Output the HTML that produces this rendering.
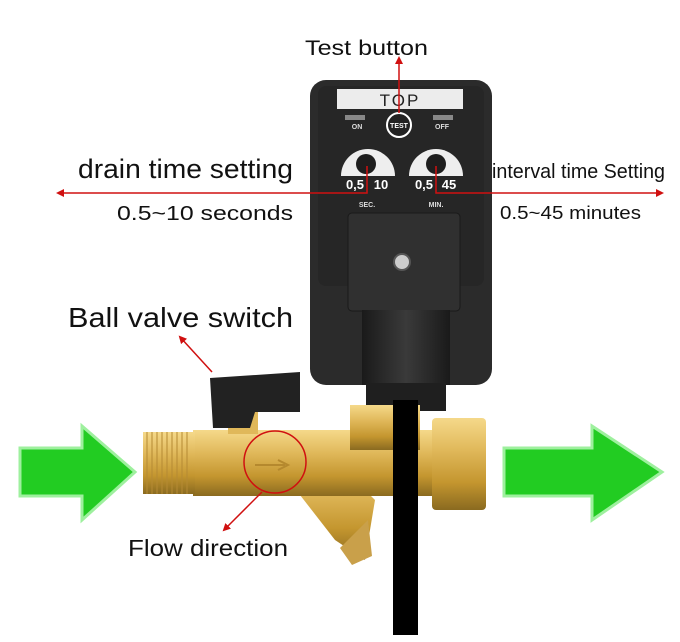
<!DOCTYPE html>
<html><head><style>
html,body{margin:0;padding:0;background:#fff;}
svg{display:block;font-family:"Liberation Sans",sans-serif;}
</style></head><body>
<svg width="680" height="642" viewBox="0 0 680 642" xmlns="http://www.w3.org/2000/svg">
<defs>
<linearGradient id="brass" x1="0" y1="0" x2="0" y2="1">
<stop offset="0" stop-color="#f5d98a"/><stop offset="0.35" stop-color="#e0b85a"/><stop offset="0.7" stop-color="#c4962f"/><stop offset="1" stop-color="#8a6a20"/>
</linearGradient>
<linearGradient id="blk" x1="0" y1="0" x2="1" y2="0">
<stop offset="0" stop-color="#1a1a1a"/><stop offset="0.5" stop-color="#3a3a3a"/><stop offset="1" stop-color="#1a1a1a"/>
</linearGradient>
<marker id="ar" markerWidth="8" markerHeight="8" refX="6" refY="4" orient="auto" markerUnits="userSpaceOnUse"><path d="M0,0 L8,4 L0,8 z" fill="#d01010"/></marker>
</defs>
<rect width="680" height="642" fill="#fff"/>

<!-- timer box -->
<rect x="310" y="80" width="182" height="305" rx="16" fill="#2b2b2b"/>
<rect x="318" y="86" width="166" height="200" rx="8" fill="#262626"/>
<rect x="337" y="89" width="126" height="20" fill="#ececec"/>
<text x="400" y="106" font-size="17" text-anchor="middle" fill="#222" letter-spacing="2">TOP</text>
<rect x="345" y="115" width="20" height="5" fill="#888"/>
<rect x="433" y="115" width="20" height="5" fill="#888"/>
<text x="357" y="129" font-size="7" fill="#ddd" text-anchor="middle" font-weight="bold">ON</text>
<text x="442" y="129" font-size="7" fill="#ddd" text-anchor="middle" font-weight="bold">OFF</text>
<circle cx="399" cy="125" r="12" fill="#222" stroke="#fff" stroke-width="2"/>
<text x="399" y="128" font-size="7" fill="#fff" text-anchor="middle" font-weight="bold">TEST</text>
<path d="M341,176 A27,27 0 0 1 395,176 Z" fill="#eee"/>
<path d="M409,176 A27,27 0 0 1 463,176 Z" fill="#eee"/>
<circle cx="366" cy="164" r="10" fill="#1e1e1e"/>
<circle cx="436" cy="164" r="10" fill="#1e1e1e"/>
<text x="355" y="189" font-size="13" fill="#fff" font-weight="bold" text-anchor="middle">0,5</text>
<text x="381" y="189" font-size="13" fill="#fff" font-weight="bold" text-anchor="middle">10</text>
<text x="424" y="189" font-size="13" fill="#fff" font-weight="bold" text-anchor="middle">0,5</text>
<text x="449" y="189" font-size="13" fill="#fff" font-weight="bold" text-anchor="middle">45</text>
<text x="367" y="207" font-size="7" fill="#ddd" font-weight="bold" text-anchor="middle">SEC.</text>
<text x="436" y="207" font-size="7" fill="#ddd" font-weight="bold" text-anchor="middle">MIN.</text>
<rect x="348" y="213" width="112" height="98" rx="4" fill="#303030" stroke="#1a1a1a"/>
<circle cx="402" cy="262" r="8" fill="#ccc" stroke="#555" stroke-width="2"/>
<rect x="362" y="310" width="88" height="75" fill="url(#blk)"/>
<rect x="366" y="383" width="80" height="28" fill="#1f1f1f"/>

<!-- valve body -->
<path d="M330,455 L375,500 L365,560 L335,540 L300,495 Z" fill="url(#brass)"/>
<path d="M340,548 L368,520 L372,556 L352,565 Z" fill="#c9a04a"/>
<rect x="193" y="430" width="250" height="66" fill="url(#brass)"/>
<rect x="143" y="432" width="52" height="62" fill="url(#brass)"/>
<g stroke="#b58a33" stroke-width="1">
<line x1="147" y1="432" x2="147" y2="494"/><line x1="152" y1="432" x2="152" y2="494"/><line x1="157" y1="432" x2="157" y2="494"/><line x1="162" y1="432" x2="162" y2="494"/><line x1="167" y1="432" x2="167" y2="494"/><line x1="172" y1="432" x2="172" y2="494"/><line x1="177" y1="432" x2="177" y2="494"/><line x1="182" y1="432" x2="182" y2="494"/><line x1="187" y1="432" x2="187" y2="494"/>
</g>
<rect x="350" y="405" width="70" height="45" fill="url(#brass)"/>
<rect x="432" y="418" width="54" height="92" rx="4" fill="url(#brass)"/>
<rect x="228" y="412" width="30" height="22" fill="#e0b85a"/>
<!-- ball handle -->
<path d="M210,378 L300,372 L300,412 L255,412 L250,428 L213,428 Z" fill="#222"/>
<rect x="393" y="400" width="25" height="235" fill="#000"/>
<path d="M255,465 L285,465 M278,460 L288,465 L278,470" stroke="#b5892e" stroke-width="2" fill="none"/>
<circle cx="275" cy="462" r="31" fill="none" stroke="#d01010" stroke-width="1.5"/>

<!-- green arrows -->
<path d="M20,448 L82,448 L82,426 L135,472 L82,520 L82,496 L20,496 Z" fill="#22cc22" stroke="#9ef09e" stroke-width="3"/>
<path d="M504,448 L592,448 L592,426 L662,472 L592,520 L592,496 L504,496 Z" fill="#22cc22" stroke="#9ef09e" stroke-width="3"/>

<!-- red leader lines -->
<g stroke="#d01010" stroke-width="1.5" fill="none">
<line x1="399" y1="113" x2="399" y2="58" marker-end="url(#ar)"/>
<polyline points="367,166 367,193 58,193" marker-end="url(#ar)"/>
<polyline points="436,166 436,193 662,193" marker-end="url(#ar)"/>
<line x1="212" y1="372" x2="180" y2="337" marker-end="url(#ar)"/>
<line x1="262" y1="492" x2="224" y2="530" marker-end="url(#ar)"/>
</g>

<!-- labels -->
<text x="305" y="55" font-size="21" fill="#111" textLength="123" lengthAdjust="spacingAndGlyphs">Test button</text>
<text x="78" y="178" font-size="27" fill="#111" textLength="215" lengthAdjust="spacingAndGlyphs">drain time setting</text>
<text x="117" y="220" font-size="20" fill="#111" textLength="176" lengthAdjust="spacingAndGlyphs">0.5~10 seconds</text>
<text x="492" y="178" font-size="20" fill="#111" textLength="173" lengthAdjust="spacingAndGlyphs">interval time Setting</text>
<text x="500" y="219" font-size="18" fill="#111" textLength="141" lengthAdjust="spacingAndGlyphs">0.5~45 minutes</text>
<text x="68" y="327" font-size="28" fill="#111" textLength="225" lengthAdjust="spacingAndGlyphs">Ball valve switch</text>
<text x="128" y="556" font-size="23" fill="#111" textLength="160" lengthAdjust="spacingAndGlyphs">Flow direction</text>
</svg>
</body></html>
